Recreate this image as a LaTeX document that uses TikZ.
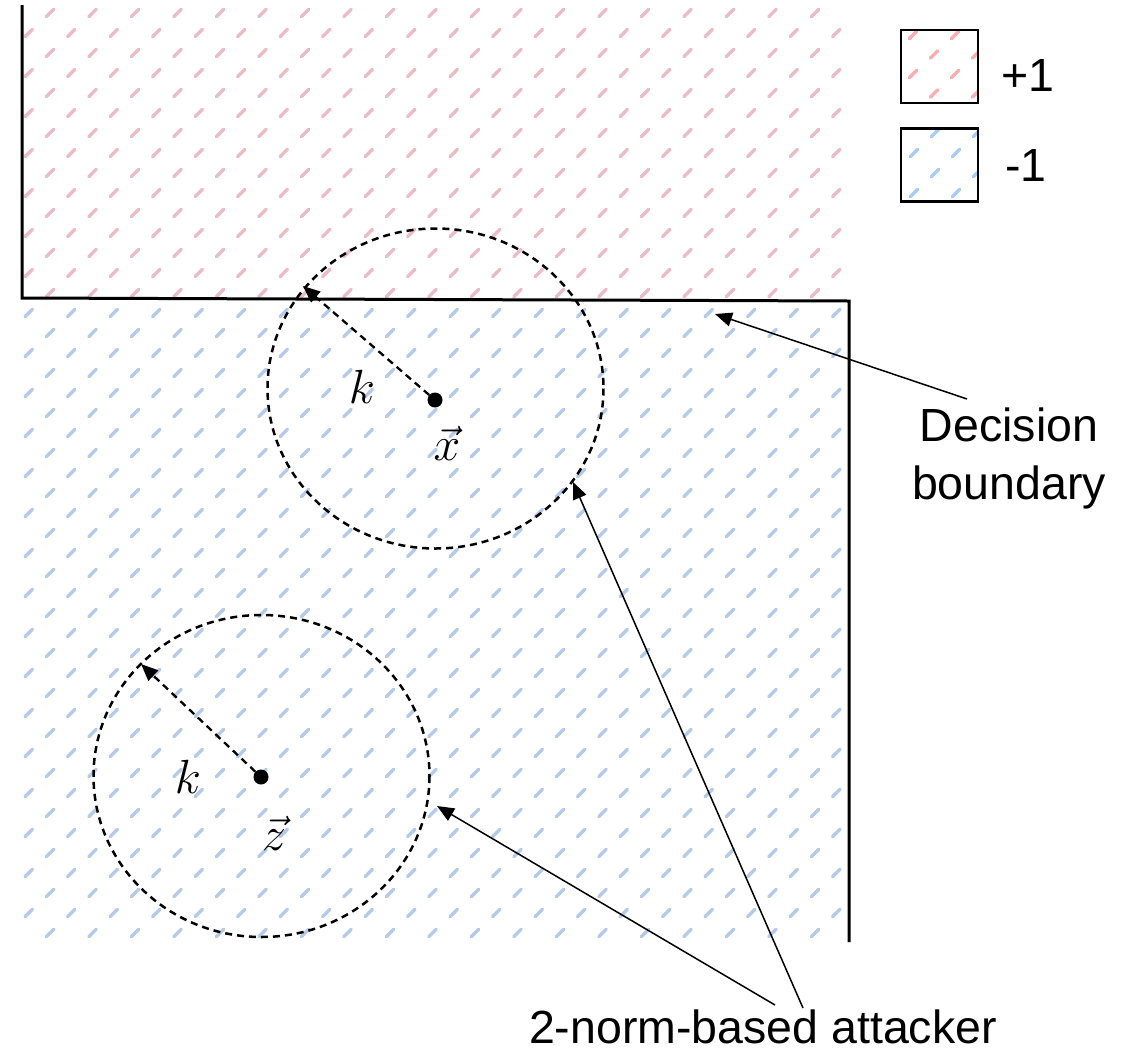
\RequirePackage{fix-cm}
\documentclass[tikz,border=0pt]{standalone}
\usepackage{fontspec}
\setmainfont{Liberation Sans}
\usetikzlibrary{arrows.meta}

\definecolor{hatchred}{RGB}{236,188,198}
\definecolor{hatchblue}{RGB}{180,202,234}
\definecolor{keyred}{RGB}{255,172,176}
\definecolor{keyblue}{RGB}{168,204,248}

\begin{document}
\begin{tikzpicture}[x=1pt,y=-1pt,
  hatchdash/.style={line width=3.4pt, line cap=round},
  boundary/.style={line width=3pt},
  ring/.style={line width=2.5pt, dash pattern=on 7pt off 5pt},
  dot/.style={circle, fill=black, inner sep=0pt, minimum size=15pt},
  radiusarrow/.style={line width=2.3pt, dash pattern=on 7pt off 5pt,
    -{Triangle[length=17pt,width=14pt]}},
  callout/.style={line width=1.5pt, -{Triangle[length=17pt,width=14pt]}},
  keybox/.style={draw, line width=2.8pt, inner sep=0pt,
    minimum width=77pt, minimum height=73pt},
  lbl/.style={font=\fontsize{46.5}{58}\selectfont, inner sep=0pt},
  mathlbl/.style={font=\fontsize{48}{50}\selectfont, inner sep=0pt}]
\useasboundingbox (0,0) rectangle (1125,1053);

% hatched half-plane of class +1
\begin{scope}
  \clip (22,0) rectangle (850,299.5);
  \foreach \j in {0,...,15}
    \foreach \i in {0,...,20}
      \draw[hatchdash, hatchred]
        ({7.5+42.5*\i+21.25*mod(\j,2)-3.6},{16.6+20*\j}) -- ++(7.2,-7.2);
\end{scope}

% hatched region of class -1
\begin{scope}
  \clip (22,299.5) rectangle (849,942);
  \foreach \j in {14,...,47}
    \foreach \i in {0,...,20}
      \draw[hatchdash, hatchblue]
        ({7.5+42.5*\i+21.25*mod(\j,2)-3.6},{16.6+20*\j}) -- ++(7.2,-7.2);
\end{scope}

% decision boundary
\draw[boundary] (22,5) -- (22,298) -- (849,301) -- (849,942);

% legend
\begin{scope}
  \clip (901,30) rectangle (978,103);
  \foreach \j in {-1,...,4}
    \foreach \i in {-1,...,2}
      \draw[hatchdash, keyred]
        ({913+42*\i+21*mod(\j,2)-3.6},{38.6+19.5*\j}) -- ++(7.2,-7.2);
\end{scope}
\begin{scope}
  \clip (901,128) rectangle (978,202);
  \foreach \j in {-1,...,4}
    \foreach \i in {-1,...,2}
      \draw[hatchdash, keyblue]
        ({935-21*mod(\j,2)+42*\i-3.6},{136.6+20*\j}) -- ++(7.2,-7.2);
\end{scope}
\node[keybox] (kpos) at (939.5,66.5) {};
\node[keybox] (kneg) at (939.5,165) {};
\node[lbl, anchor=base] (tpos) at (1027.5,91.5) {+1};
\node[lbl, anchor=base] (tneg) at (1026,181.5) {-1};

% perturbation balls
\draw[ring] (435.5,388.5) ellipse [x radius=168, y radius=160];
\draw[ring] (261.5,776) ellipse [x radius=168, y radius=161];

\node[dot] (px) at (435,400) {};
\node[dot] (pz) at (261,777) {};
\coordinate (rx) at (303,286);
\coordinate (rz) at (141,664);
\draw[radiusarrow] (px) -- (rx);
\draw[radiusarrow] (pz) -- (rz);

\node[mathlbl, anchor=base] (kx) at (362,403) {$k$};
\node[mathlbl, anchor=base] (lx) at (447,460) {$\vec{x}$};
\node[mathlbl, anchor=base] (kz) at (188,793) {$k$};
\node[mathlbl, anchor=base] (lz) at (274,850) {$\vec{z}$};

% annotations (base anchor sits on the last line)
\node[lbl, align=center, anchor=base] (db) at (1009,499) {Decision\\boundary};
\coordinate (dbtail) at (967,399);
\coordinate (dbtip) at (715,314);
\draw[callout] (dbtail) -- (dbtip);

\node[lbl, anchor=base] (att) at (763,1043) {2-norm-based attacker};
\coordinate (atz) at (775,1005);
\coordinate (atx) at (803,1008);
\coordinate (tipz) at (437,806);
\coordinate (tipx) at (573,482);
\draw[callout] (atz) -- (tipz);
\draw[callout] (atx) -- (tipx);
\end{tikzpicture}
\end{document}
